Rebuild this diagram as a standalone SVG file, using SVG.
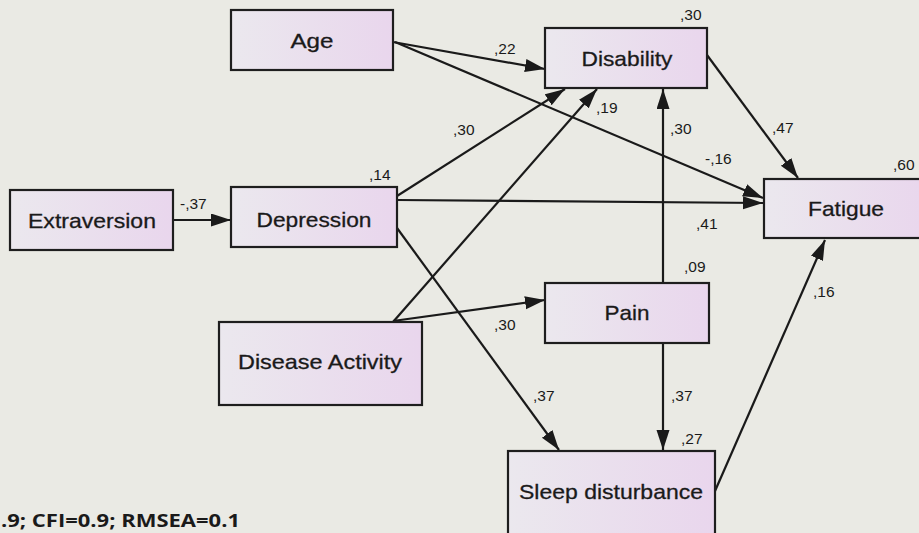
<svg xmlns="http://www.w3.org/2000/svg" width="919" height="533" viewBox="0 0 919 533">
<style>
.box{stroke:#1e1e1e;stroke-width:2.2;fill:url(#g)}
.lbl{font-family:"Liberation Sans",Arial,sans-serif;font-size:21px;fill:#1a1a1a;text-anchor:middle;stroke:#1a1a1a;stroke-width:0.3}
.num{font-family:"Liberation Sans",Arial,sans-serif;font-size:15.5px;fill:#1a1a1a}
.edge{stroke:#1a1a1a;stroke-width:2.2;fill:none;marker-end:url(#ah)}
.foot{font-family:"Open Sans","Noto Sans",sans-serif;font-size:17px;font-weight:bold;fill:#1a1a1a}
</style>
<defs>
<linearGradient id="g" x1="0" y1="0" x2="1" y2="0">
<stop offset="0" stop-color="#ebe8ee"/>
<stop offset="1" stop-color="#e9d6ed"/>
</linearGradient>
<marker id="ah" markerUnits="userSpaceOnUse" markerWidth="22" markerHeight="14" refX="20" refY="6.5" orient="auto">
<path d="M0,0 L20,6.5 L0,13 Z" fill="#1a1a1a"/>
</marker>
</defs>
<rect x="0" y="0" width="919" height="533" fill="#eaeae4"/>
<g id="connectors">
<line class="edge" x1="393" y1="42" x2="545" y2="69"/>
<line class="edge" x1="395" y1="42" x2="763" y2="198"/>
<line class="edge" x1="397" y1="196" x2="565" y2="89"/>
<line class="edge" x1="397" y1="200" x2="763" y2="203"/>
<line class="edge" x1="397" y1="228" x2="559" y2="450"/>
<line class="edge" x1="173" y1="220" x2="231" y2="220"/>
<line class="edge" x1="393" y1="322" x2="597" y2="89"/>
<line class="edge" x1="393" y1="321" x2="545" y2="300"/>
<line class="edge" x1="663" y1="283" x2="663" y2="89"/>
<line class="edge" x1="663" y1="343" x2="663" y2="450"/>
<line class="edge" x1="707" y1="55" x2="798" y2="178"/>
<line class="edge" x1="715" y1="491" x2="825" y2="240"/>
</g>
<g id="age"><rect class="box" x="231" y="10" width="162" height="60"/><text class="lbl" x="312" y="48" textLength="43" lengthAdjust="spacingAndGlyphs">Age</text></g>
<g id="disability"><rect class="box" x="545" y="28" width="162" height="60"/><text class="lbl" x="627" y="66" textLength="91" lengthAdjust="spacingAndGlyphs">Disability</text></g>
<g id="extraversion"><rect class="box" x="10" y="190" width="163" height="60"/><text class="lbl" x="92" y="228" textLength="128" lengthAdjust="spacingAndGlyphs">Extraversion</text></g>
<g id="depression"><rect class="box" x="231" y="187" width="166" height="60"/><text class="lbl" x="314" y="227" textLength="115" lengthAdjust="spacingAndGlyphs">Depression</text></g>
<g id="fatigue"><rect class="box" x="764" y="179" width="165" height="59"/><text class="lbl" x="846" y="216" textLength="76" lengthAdjust="spacingAndGlyphs">Fatigue</text></g>
<g id="pain"><rect class="box" x="545" y="283" width="164" height="60"/><text class="lbl" x="627" y="320" textLength="45" lengthAdjust="spacingAndGlyphs">Pain</text></g>
<g id="disease-activity"><rect class="box" x="219" y="322" width="203" height="83"/><text class="lbl" x="320" y="369" textLength="164" lengthAdjust="spacingAndGlyphs">Disease Activity</text></g>
<g id="sleep-disturbance"><rect class="box" x="508" y="451" width="207" height="90"/><text class="lbl" x="611" y="499" textLength="184" lengthAdjust="spacingAndGlyphs">Sleep disturbance</text></g>
<g id="labels">
<text class="num" x="680" y="20">,30</text>
<text class="num" x="494" y="54">,22</text>
<text class="num" x="596" y="113">,19</text>
<text class="num" x="453" y="135">,30</text>
<text class="num" x="670" y="134">,30</text>
<text class="num" x="772" y="133">,47</text>
<text class="num" x="705" y="164">-,16</text>
<text class="num" x="893" y="170">,60</text>
<text class="num" x="369" y="180">,14</text>
<text class="num" x="180" y="209">-,37</text>
<text class="num" x="696" y="229">,41</text>
<text class="num" x="684" y="272">,09</text>
<text class="num" x="813" y="297">,16</text>
<text class="num" x="494" y="330">,30</text>
<text class="num" x="533" y="401">,37</text>
<text class="num" x="671" y="401">,37</text>
<text class="num" x="681" y="444">,27</text>
</g>
<text class="foot" x="1" y="527" textLength="239" lengthAdjust="spacingAndGlyphs">.9; CFI=0.9; RMSEA=0.1</text>
</svg>
